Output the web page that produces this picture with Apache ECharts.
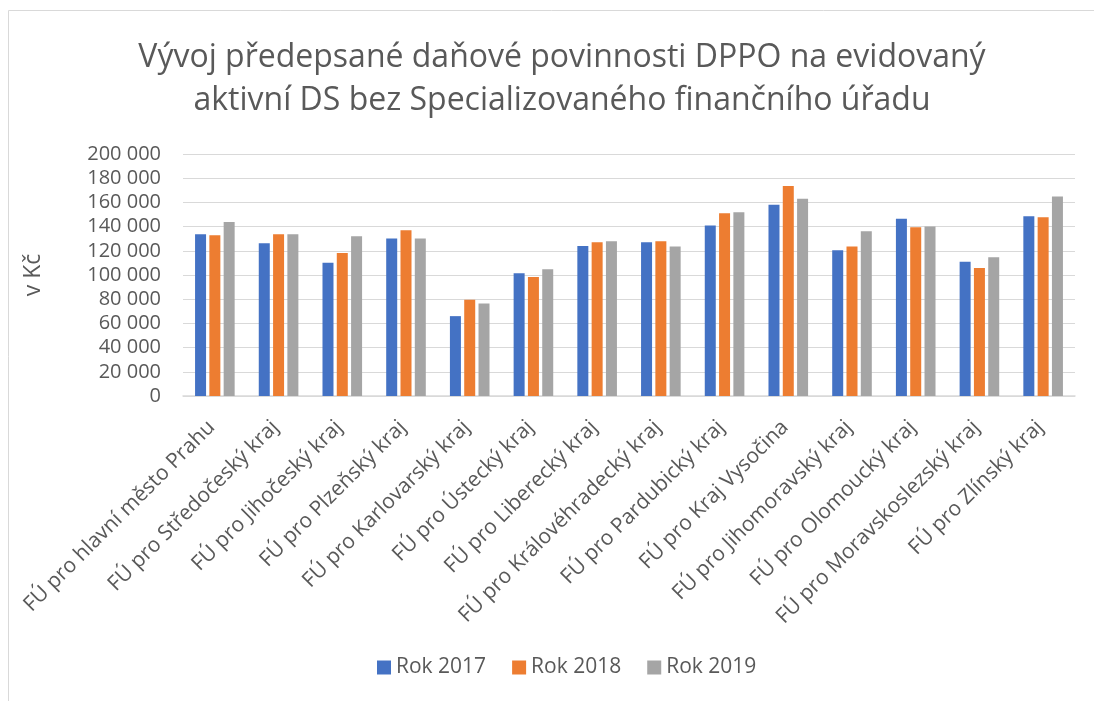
<!DOCTYPE html>
<html>
<head>
<meta charset="utf-8">
<script src="https://cdn.jsdelivr.net/npm/echarts@6/dist/echarts.min.js"></script>
<style>
  html, body { margin: 0; padding: 0; background: #fff; }
  #chart { width: 1094px; height: 701px; }
</style>
</head>
<body>
<div id="chart"></div>
<script>
// kategorie - financni urady
var categories = [
    'FÚ pro hlavní město Prahu',
    'FÚ pro Středočeský kraj',
    'FÚ pro Jihočeský kraj',
    'FÚ pro Plzeňský kraj',
    'FÚ pro Karlovarský kraj',
    'FÚ pro Ústecký kraj',
    'FÚ pro Liberecký kraj',
    'FÚ pro Královéhradecký kraj',
    'FÚ pro Pardubický kraj',
    'FÚ pro Kraj Vysočina',
    'FÚ pro Jihomoravský kraj',
    'FÚ pro Olomoucký kraj',
    'FÚ pro Moravskoslezský kraj',
    'FÚ pro Zlínský kraj'
];

var rok2017 = [133700, 126200, 110200, 130100, 66000, 101400, 124000, 127100, 140900, 158000, 120400, 146400, 111000, 148600];
var rok2018 = [132900, 133700, 118200, 137000, 79600, 98300, 127100, 127900, 151100, 173500, 123500, 139500, 105800, 147800];
var rok2019 = [143900, 133700, 132000, 130100, 76500, 104700, 127900, 123500, 151900, 163000, 136200, 140100, 114600, 164900];

var seriesNames = ['Rok 2017', 'Rok 2018', 'Rok 2019'];
var colors = ['#4472C4', '#ED7D31', '#A5A5A5'];

var font = 'Open Sans';
var textColor = '#595959';

var chart = echarts.init(document.getElementById('chart'));

function fmt(v) {
    return String(v).replace(/\B(?=(\d{3})+(?!\d))/g, ' ');
}

function bar(name, data) {
    return {
        name: name,
        type: 'bar',
        data: data,
        barWidth: 11,
        barGap: '30%',
        animation: false
    };
}

var option = {
    color: colors,
    animation: false,
    graphic: [{
        type: 'rect',
        shape: { x: 8.5, y: 10.5, width: 1200, height: 800 },
        style: { fill: 'none', stroke: '#d9d9d9', lineWidth: 1 },
        silent: true
    }],
    title: {
        text: 'Vývoj předepsané daňové povinnosti DPPO na evidovaný\naktivní DS bez Specializovaného finančního úřadu',
        left: 557,
        top: 31,
        textAlign: 'center',
        textStyle: {
            fontFamily: font,
            fontSize: 32,
            fontWeight: 'normal',
            color: textColor,
            lineHeight: 43
        }
    },
    legend: {
        data: seriesNames,
        bottom: 18,
        left: 372,
        itemWidth: 14,
        itemHeight: 14,
        itemGap: 26,
        icon: 'rect',
        textStyle: { fontFamily: font, fontSize: 21, color: textColor }
    },
    grid: {
        left: 183,
        right: 19,
        top: 154,
        bottom: 305,
        containLabel: false
    },
    xAxis: {
        type: 'category',
        data: categories,
        axisLine: { lineStyle: { color: '#d9d9d9', width: 1.5 } },
        axisTick: { show: false },
        axisLabel: {
            rotate: 45,
            interval: 0,
            margin: 10,
            verticalAlign: 'top',
            padding: [0, 15, 0, 0],
            fontFamily: font,
            fontSize: 21,
            color: textColor
        }
    },
    yAxis: {
        type: 'value',
        min: 0,
        max: 200000,
        interval: 20000,
        name: 'v Kč',
        nameLocation: 'middle',
        nameGap: 138,
        nameTextStyle: { fontFamily: font, fontSize: 23, color: textColor },
        axisLine: { show: false },
        axisTick: { show: false },
        splitLine: { lineStyle: { color: '#d9d9d9', width: 1 } },
        axisLabel: {
            formatter: fmt,
            margin: 22,
            fontFamily: font,
            fontSize: 20,
            color: textColor
        }
    },
    series: [
        bar(seriesNames[0], rok2017),
        bar(seriesNames[1], rok2018),
        bar(seriesNames[2], rok2019)
    ]
};

chart.setOption(option);
</script>
</body>
</html>
